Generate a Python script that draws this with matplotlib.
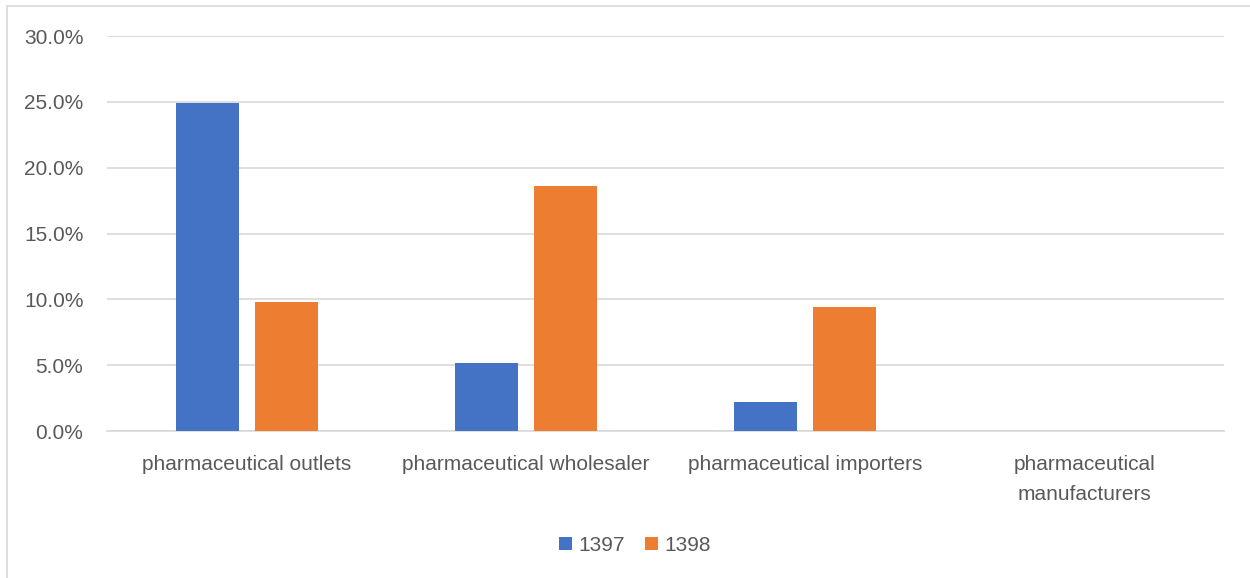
import matplotlib.pyplot as plt
import numpy as np
from matplotlib.patches import Rectangle
from matplotlib.ticker import FuncFormatter

categories = ['pharmaceutical outlets', 'pharmaceutical wholesaler',
              'pharmaceutical importers', 'pharmaceutical\nmanufacturers']
years = ['1397', '1398']
vals_1397 = [24.9, 5.2, 2.2, 0.0]
vals_1398 = [9.8, 18.6, 9.4, 0.0]
colors = ['#4472C4', '#ED7D31']

plt.rcParams['font.family'] = ['Liberation Sans', 'DejaVu Sans']
txt = '#595959'

fig = plt.figure(figsize=(12.5, 5.78), dpi=100)
ax = fig.add_axes([0.0856, 0.2543, 0.8936, 0.6834])

x = np.arange(len(categories))
w = 0.2256
off = 0.1415
ax.bar(x - off, vals_1397, w, color=colors[0], label=years[0], zorder=3)
ax.bar(x + off, vals_1398, w, color=colors[1], label=years[1], zorder=3)

ax.set_xlim(-0.5, len(categories) - 0.5)
ax.set_ylim(0, 30)
ax.set_yticks(np.arange(0, 31, 5))
ax.yaxis.set_major_formatter(FuncFormatter(lambda v, p: f'{v:.1f}%'))
ax.grid(axis='y', color='#d9d9d9', lw=1.2, zorder=0)
for s in ['top', 'right', 'left']:
    ax.spines[s].set_visible(False)
ax.spines['bottom'].set_color('#d9d9d9')
ax.spines['bottom'].set_linewidth(1.2)
ax.tick_params(length=0, labelsize=15, colors=txt)
ax.tick_params(axis='y', pad=17)
ax.tick_params(axis='x', pad=17)
ax.set_xticks(x)
ax.set_xticklabels(categories, linespacing=1.75)

fig.legend(loc='center', bbox_to_anchor=(0.508, 0.057), ncol=2, frameon=False,
           fontsize=15, labelcolor=txt, handlelength=0.6, handleheight=0.6,
           handletextpad=0.3, columnspacing=1.0)

fig.patches.append(Rectangle((7 / 1250, -0.01), 1.1, 1 - 6 / 578 + 0.01,
                             transform=fig.transFigure, fill=False,
                             ec='#d9d9d9', lw=1.2))

fig.savefig('out.png', dpi=100)
